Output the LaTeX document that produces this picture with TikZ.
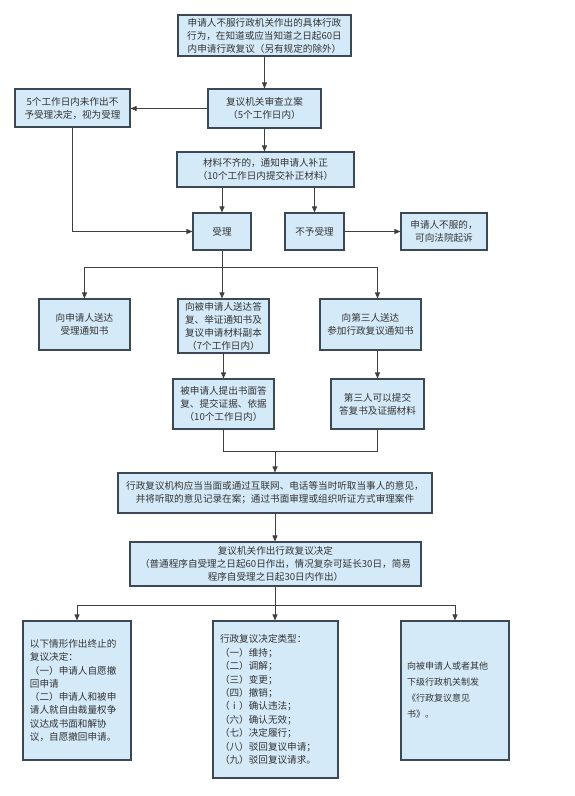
\documentclass[tikz,border=0pt]{standalone}
\usepackage{fontspec}
\setmainfont{Noto Sans CJK SC}
\usetikzlibrary{arrows.meta}
\definecolor{boxfill}{RGB}{212,234,249}
\definecolor{boxdraw}{RGB}{60,72,84}
\definecolor{txt}{RGB}{51,51,51}
\definecolor{lnc}{RGB}{64,64,64}
\begin{document}
\begin{tikzpicture}[x=1pt,y=-1pt,
 box/.style={draw=boxdraw, line width=1.1pt, fill=boxfill, text=txt, align=center, inner sep=0pt, font=\fontsize{9.6}{13}\selectfont},
 lbox/.style={box, align=left, inner xsep=7pt, inner ysep=0pt},
 arr/.style={draw=lnc, line width=0.8pt, -{Triangle[length=6pt,width=5pt]}},
 ln/.style={draw=lnc, line width=0.8pt}]
\useasboundingbox (0,0) rectangle (575,796);

\node[box, minimum width=173pt, minimum height=41pt] (top) at (264.5,35.5)
 {申请人不服行政机关作出的具体行政\\行为，在知道或应当知道之日起60日\\内申请行政复议（另有规定的除外）};
\node[box, minimum width=113pt, minimum height=39pt] (review) at (264.5,108.5)
 {复议机关审查立案\\（5个工作日内）};
\node[box, minimum width=115pt, minimum height=38pt] (left5) at (72.5,108)
 {5个工作日内未作出不\\予受理决定，视为受理};
\node[box, minimum width=177pt, minimum height=35pt] (mat) at (265.5,169.5)
 {材料不齐的，通知申请人补正\\（10个工作日内提交补正材料）};
\node[box, minimum width=58pt, minimum height=37pt] (accept) at (222,231.5) {受理};
\node[box, minimum width=59pt, minimum height=37pt] (reject) at (314.5,231.5) {不予受理};
\node[box, minimum width=86pt, minimum height=37pt] (sue) at (444,231.5)
 {申请人不服的，\\可向法院起诉};
\node[box, minimum width=91pt, minimum height=51pt] (n1) at (84.5,324.5)
 {向申请人送达\\受理通知书};
\node[box, minimum width=91pt, minimum height=54pt] (n2) at (223.5,326)
 {向被申请人送达答\\复、举证通知书及\\复议申请材料副本\\（7个工作日内）};
\node[box, minimum width=101pt, minimum height=51pt] (n3) at (370.5,324.5)
 {向第三人送达\\参加行政复议通知书};
\node[box, minimum width=101pt, minimum height=50pt] (r1) at (223.5,404)
 {被申请人提出书面答\\复、提交证据、依据\\（10个工作日内）};
\node[box, minimum width=93pt, minimum height=50pt] (r2) at (377.5,404)
 {第三人可以提交\\答复书及证据材料};
\node[box, minimum width=314pt, minimum height=40pt] (hear) at (275,493)
 {行政复议机构应当当面或通过互联网、电话等当时听取当事人的意见，\\并将听取的意见记录在案；通过书面审理或组织听证方式审理案件};
\node[box, minimum width=291pt, minimum height=44pt] (decide) at (275.5,564)
 {复议机关作出行政复议决定\\（普通程序自受理之日起60日作出，情况复杂可延长30日，简易\\程序自受理之日起30日内作出）};
\node[lbox, text width=94pt, minimum height=139pt, font=\fontsize{9.6}{13.3}\selectfont] (b1) at (77,690.5)
 {以下情形作出终止的\\复议决定：\\（一）申请人自愿撤\\回申请\\（二）申请人和被申\\请人就自由裁量权争\\议达成书面和解协\\议，自愿撤回申请。};
\node[lbox, text width=111pt, minimum height=157pt, font=\fontsize{9.6}{13.4}\selectfont] (b2) at (275.5,699.5)
 {行政复议决定类型：\\（一）维持；\\（二）调解；\\（三）变更；\\（四）撤销；\\（ⅰ）确认违法；\\（六）确认无效；\\（七）决定履行；\\（八）驳回复议申请；\\（九）驳回复议请求。};
\node[lbox, inner xsep=6pt, text width=96pt, minimum height=139pt, font=\fontsize{9}{16}\selectfont] (b3) at (455,690.5)
 {向被申请人或者其他\\下级行政机关制发\\《行政复议意见\\书》。};

\coordinate (j1) at (222,267);
\coordinate (j2) at (275,451);
\coordinate (j3) at (275,605);

\draw[arr] (top.south) -- (review.north);
\draw[arr] (review.west) -- (review.west -| left5.east);
\draw[arr] (review.south) -- (review.south |- mat.north);
\draw[arr] (mat.south -| accept.north) -- (accept.north);
\draw[arr] (mat.south -| reject.north) -- (reject.north);
\draw[arr] (left5.south) |- (accept.west);
\draw[arr] (reject.east) -- (sue.west);
\draw[ln] (accept.south) -- (j1);
\draw[arr] (j1) -| (n1.north);
\draw[arr] (j1) -- (j1 |- n2.north);
\draw[arr] (j1) -| ([xshift=7pt]n3.north);
\draw[arr] (n2.south) -- (r1.north);
\draw[arr] (r2.north |- n3.south) -- (r2.north);
\draw[ln] (r1.south) |- (j2 -| r2.south) -- (r2.south);
\draw[arr] (j2) -- (hear.north);
\draw[arr] (hear.south) -- (hear.south |- decide.north);
\draw[ln] (j3 |- decide.south) -- (j3);
\draw[arr] (j3) -| (b1.north);
\draw[arr] (j3) -- (j3 |- b2.north);
\draw[arr] (j3) -| (b3.north);
\end{tikzpicture}
\end{document}
